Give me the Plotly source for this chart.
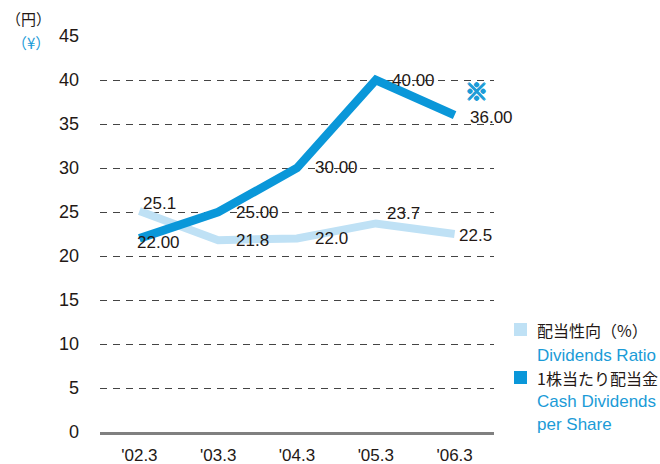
import plotly.graph_objects as go

# Fiscal years (March year-end)
periods = ["'02.3", "'03.3", "'04.3", "'05.3", "'06.3"]
# Dividend payout ratio (%)
payout_ratio = [25.1, 21.8, 22.0, 23.7, 22.5]
# Cash dividends per share (yen)
cash_dividends = [22.00, 25.00, 30.00, 40.00, 36.00]
y_ticks = [0, 5, 10, 15, 20, 25, 30, 35, 40, 45]

DARK_BLUE = "#0a97d9"
LIGHT_BLUE = "#bfe1f5"
TEXT_BLUE = "#1b9bd7"
TEXT_DARK = "#231815"
FONT = "Liberation Sans, Arial, sans-serif"
CJK = "Noto Sans CJK JP, sans-serif"

# label offsets in pixels (x, y) for each point's value label
ratio_offsets = [(20, 8), (34, 0), (34, 0), (28, 10), (21, -1)]
cash_offsets = [(19, -4), (39, 0), (39, 1), (38, 0), (37, -2)]

xs = list(range(len(periods)))

# plot area in pixels: left 100, right 494, top 36, bottom 432
def px_x(p):
    return (p - 100) / 394.0

def px_y(p):
    return (432 - p) / 396.0

fig = go.Figure()
fig.add_trace(go.Scatter(
    x=xs, y=payout_ratio, mode="lines",
    line=dict(color=LIGHT_BLUE, width=8), hoverinfo="skip", showlegend=False,
))
fig.add_trace(go.Scatter(
    x=xs, y=cash_dividends, mode="lines",
    line=dict(color=DARK_BLUE, width=8.5), hoverinfo="skip", showlegend=False,
))

annotations = []
for i, v in enumerate(payout_ratio):
    dx, dy = ratio_offsets[i]
    annotations.append(dict(x=i, y=v, xref="x", yref="y", text=f"{v:.1f}",
                            showarrow=False, xshift=dx, yshift=dy,
                            font=dict(family=FONT, size=17, color=TEXT_DARK)))
for i, v in enumerate(cash_dividends):
    dx, dy = cash_offsets[i]
    annotations.append(dict(x=i, y=v, xref="x", yref="y", text=f"{v:.2f}",
                            showarrow=False, xshift=dx, yshift=dy,
                            font=dict(family=FONT, size=17, color=TEXT_DARK)))

# note mark next to the latest value (thickened with a tight shadow)
mark_shadow = ", ".join(f"{sx}px {sy}px 0 {TEXT_BLUE}"
                        for sx, sy in [(1, 0), (-1, 0), (0, 1), (0, -1)])
annotations.append(dict(x=4, y=cash_dividends[4], xref="x", yref="y", text="※",
                        showarrow=False, xshift=22, yshift=25,
                        font=dict(family=CJK, size=23, weight="bold", color=TEXT_BLUE,
                                  shadow=mark_shadow)))

# unit labels
annotations.append(dict(x=px_x(4), y=px_y(6), xref="x domain", yref="y domain",
                        xanchor="left", yanchor="top",
                        text="（円）", showarrow=False,
                        font=dict(family=CJK, size=15, color=TEXT_DARK)))
annotations.append(dict(x=px_x(10), y=px_y(30), xref="x domain", yref="y domain",
                        xanchor="left", yanchor="top",
                        text="（¥）", showarrow=False,
                        font=dict(family=CJK, size=15, color=TEXT_BLUE)))

# legend
legend_rows = [
    (330, "配当性向（%）", TEXT_DARK),
    (355, "Dividends Ratio", TEXT_BLUE),
    (378, "1株当たり配当金", TEXT_DARK),
    (401, "Cash Dividends", TEXT_BLUE),
    (424, "per Share", TEXT_BLUE),
]
for y, txt, col in legend_rows:
    annotations.append(dict(x=px_x(535), y=px_y(y), xref="x domain", yref="y domain",
                            text=txt, showarrow=False, xanchor="left", yanchor="middle",
                            font=dict(family=CJK if col == TEXT_DARK else FONT,
                                      size=17 if col == TEXT_BLUE else 16, color=col)))

shapes = [
    dict(type="rect", xref="x domain", yref="y domain",
         x0=px_x(514), x1=px_x(527), y0=px_y(336), y1=px_y(323),
         fillcolor=LIGHT_BLUE, line=dict(width=0)),
    dict(type="rect", xref="x domain", yref="y domain",
         x0=px_x(514), x1=px_x(527), y0=px_y(384), y1=px_y(371),
         fillcolor=DARK_BLUE, line=dict(width=0)),
]

fig.update_layout(
    width=660, height=464,
    margin=dict(l=100, r=166, t=36, b=32, autoexpand=False),
    paper_bgcolor="white", plot_bgcolor="white",
    showlegend=False,
    annotations=annotations,
    shapes=shapes,
    xaxis=dict(
        range=[-0.5, 4.5], tickvals=xs, ticktext=periods,
        showgrid=False, zeroline=False, automargin=False,
        showline=True, linecolor="#808080", linewidth=2.5,
        ticks="", ticklabelstandoff=6,
        tickfont=dict(family=FONT, size=17, color=TEXT_DARK),
        fixedrange=True,
    ),
    yaxis=dict(
        range=[0, 45], tickvals=y_ticks, automargin=False,
        showgrid=True, gridcolor="#444444", griddash="7px,6px", gridwidth=1,
        zeroline=False, showline=False,
        ticks="", ticklabelstandoff=20,
        tickfont=dict(family=FONT, size=18, color=TEXT_DARK),
        fixedrange=True,
    ),
)

fig.write_html("out.html")
